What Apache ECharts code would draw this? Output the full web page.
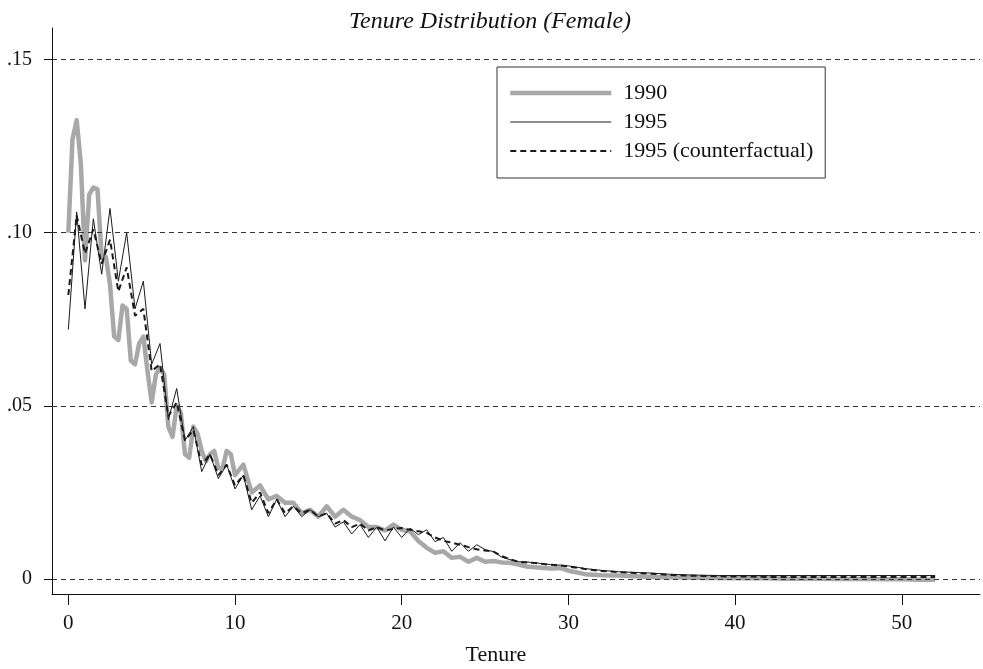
<!DOCTYPE html>
<html>
<head>
<meta charset="utf-8">
<script src="https://cdn.jsdelivr.net/npm/echarts@6/dist/echarts.min.js"></script>
<style>
html,body{margin:0;padding:0;background:#fff;}
#chart{width:983px;height:669px;}
</style>
</head>
<body>
<div id="chart"></div>
<script>
// Tenure (years) for the 1990 series (quarterly early, then half-yearly, then yearly)
const tenure1990 = [0,0.25,0.5,0.75,1,1.25,1.5,1.75,2,2.25,2.5,2.75,3,3.25,3.5,3.75,
  4,4.25,4.5,4.75,5,5.25,5.5,5.75,6,6.25,6.5,6.75,7,7.25,7.5,7.75,8,8.25,8.5,8.75,
  9,9.25,9.5,9.75,10,10.5,11,11.5,12,12.5,13,13.5,14,14.5,15,15.5,16,16.5,17,17.5,
  18,18.5,19,19.5,20,20.5,21,21.5,22,22.5,23,23.5,24,24.5,25,25.5,26,26.5,27,27.5,
  28,28.5,29,29.5,30,31,32,33,34,35,36,37,38,39,40,41,42,43,44,45,46,47,48,49,50,51,52];

const share1990 = [0.100,0.127,0.1325,0.120,0.092,0.111,0.113,0.1125,0.093,0.093,
  0.085,0.070,0.069,0.079,0.078,0.063,0.062,0.068,0.070,0.060,
  0.051,0.059,0.061,0.059,0.044,0.041,0.050,0.048,0.036,0.035,
  0.044,0.042,0.037,0.034,0.036,0.037,0.032,0.032,0.037,0.036,
  0.030,0.033,0.025,0.027,0.023,0.024,0.022,0.022,0.019,0.020,
  0.018,0.021,0.018,0.020,0.018,0.017,0.015,0.015,0.014,0.0157,
  0.0142,0.0137,0.011,0.009,0.0076,0.008,0.0061,0.0064,0.005,0.0061,
  0.005,0.0052,0.0048,0.0047,0.0042,0.0036,0.0034,0.0032,0.0030,0.0032,
  0.0024,0.0014,0.0011,0.0010,0.0008,0.0006,0.0005,0.0004,0.0003,0.0003,
  0.0002,0.0002,0.0002,0.0001,0.0001,0.0001,0.0000,0.0000,0.0000,-0.0001,-0.0001,-0.0002,-0.0002];

// Tenure (years) for the 1995 series (half-yearly, then yearly)
const tenure1995 = [0,0.5,1,1.5,2,2.5,3,3.5,4,4.5,5,5.5,6,6.5,7,7.5,8,8.5,9,9.5,
  10,10.5,11,11.5,12,12.5,13,13.5,14,14.5,15,15.5,16,16.5,17,17.5,18,18.5,19,19.5,
  20,20.5,21,21.5,22,22.5,23,23.5,24,24.5,25,25.5,26,26.5,27,27.5,28,28.5,29,29.5,
  30,31,32,33,34,35,36,37,38,39,40,41,42,43,44,45,46,47,48,49,50,51,52];

const share1995 = [0.072,0.106,0.078,0.104,0.088,0.107,0.086,0.100,0.078,0.086,
  0.062,0.068,0.046,0.055,0.040,0.044,0.031,0.036,0.029,0.033,
  0.026,0.030,0.020,0.024,0.018,0.023,0.018,0.021,0.018,0.020,
  0.018,0.019,0.015,0.0165,0.013,0.0157,0.012,0.015,0.011,0.015,
  0.012,0.0147,0.0128,0.0142,0.0108,0.012,0.008,0.0105,0.008,0.0099,
  0.0085,0.0079,0.0063,0.0056,0.0050,0.0049,0.0047,0.0044,0.0041,0.0040,
  0.0038,0.0030,0.0025,0.0021,0.0019,0.0017,0.0014,0.0012,0.0011,0.0010,
  0.0010,0.0010,0.0010,0.0010,0.0010,0.0010,0.0010,0.0010,0.0010,0.0010,0.0010,0.0010,0.0010];

const share1995cf = [0.082,0.105,0.094,0.101,0.091,0.098,0.083,0.090,0.076,0.078,
  0.060,0.062,0.047,0.051,0.040,0.043,0.033,0.036,0.030,0.033,
  0.027,0.030,0.022,0.025,0.019,0.023,0.019,0.021,0.019,0.020,
  0.018,0.019,0.016,0.017,0.015,0.016,0.014,0.015,0.014,0.0145,
  0.0147,0.0142,0.0138,0.0133,0.012,0.011,0.0105,0.0099,0.0092,0.0086,
  0.0082,0.0079,0.0066,0.0057,0.0050,0.0048,0.0046,0.0043,0.0041,0.0039,
  0.0036,0.0029,0.0023,0.0020,0.0017,0.0015,0.0012,0.0010,0.0009,0.0008,
  0.0007,0.0007,0.0006,0.0006,0.0006,0.0006,0.0006,0.0006,0.0006,0.0006,0.0006,0.0006,0.0006];

const xTicks = [0,10,20,30,40,50];
const yTicks = [0,0.05,0.10,0.15];
const yTickLabels = ['0','.05','.10','.15'];
const seriesNames = ['1990','1995','1995 (counterfactual)'];

const FONT = "'Liberation Serif','DejaVu Serif',serif";
const chart = echarts.init(document.getElementById('chart'), null, {renderer:'canvas'});
const pair = (xs, arr) => xs.map((t,i)=>[t, arr[i]]);

chart.setOption({
  animation:false,
  backgroundColor:'#fff',
  title:{
    text:'Tenure Distribution (Female)',
    left:485, top:5, textAlign:'center',
    textStyle:{fontFamily:FONT,fontStyle:'italic',fontWeight:'normal',fontSize:24,color:'#111'}
  },
  legend:{
    orient:'vertical',
    left:497, top:67,
    padding:[15,12,16,11],
    itemWidth:101, itemHeight:20, itemGap:7,
    borderColor:'#333', borderWidth:1,
    data:seriesNames,
    itemStyle:{opacity:0},
    lineStyle:{width:'inherit'},
    textStyle:{fontFamily:FONT,fontSize:22,color:'#111',padding:[0,0,0,7]}
  },
  grid:{left:52,right:3,top:28,bottom:75,containLabel:false},
  xAxis:{
    type:'value',
    min:-0.98, max:54.69,
    axisLine:{show:true,onZero:false,lineStyle:{color:'#111',width:1}},
    axisTick:{show:true,length:11,customValues:xTicks,lineStyle:{color:'#111'}},
    axisLabel:{show:true,customValues:xTicks,margin:19,fontFamily:FONT,fontSize:21,color:'#111'},
    splitLine:{show:false}
  },
  yAxis:{
    type:'value',
    min:-0.00433, max:0.1591,
    axisLine:{show:true,onZero:false,lineStyle:{color:'#111',width:1}},
    axisTick:{show:true,length:8,customValues:yTicks,lineStyle:{color:'#111'}},
    axisLabel:{show:true,customValues:yTicks,margin:20,fontFamily:FONT,fontSize:20,color:'#111',
      formatter:function(v){const i=yTicks.findIndex(t=>Math.abs(t-v)<1e-9);return i>=0?yTickLabels[i]:'';}},
    splitLine:{show:false}
  },
  graphic:[{
    type:'text', x:496, y:644,
    style:{text:'Tenure',fontFamily:FONT,fontSize:22,fill:'#111',textAlign:'center'}
  }],
  series:[
    {
      name:seriesNames[0], type:'line', data:pair(tenure1990, share1990), symbol:'none', showSymbol:false,
      lineStyle:{color:'#a8a8a8',width:4.5,join:'round'}, itemStyle:{color:'#a8a8a8'}, z:2,
      markLine:{
        silent:true, symbol:'none', label:{show:false},
        lineStyle:{color:'#333',width:1,type:[5,4]},
        data:yTicks.map(v=>({yAxis:v}))
      }
    },
    {
      name:seriesNames[1], type:'line', data:pair(tenure1995, share1995), symbol:'none', showSymbol:false,
      lineStyle:{color:'#1a1a1a',width:1}, itemStyle:{color:'#1a1a1a'}, z:4
    },
    {
      name:seriesNames[2], type:'line', data:pair(tenure1995, share1995cf), symbol:'none', showSymbol:false,
      lineStyle:{color:'#1a1a1a',width:2,type:[6,4]}, itemStyle:{color:'#1a1a1a'}, z:3
    }
  ]
});
</script>
</body>
</html>
